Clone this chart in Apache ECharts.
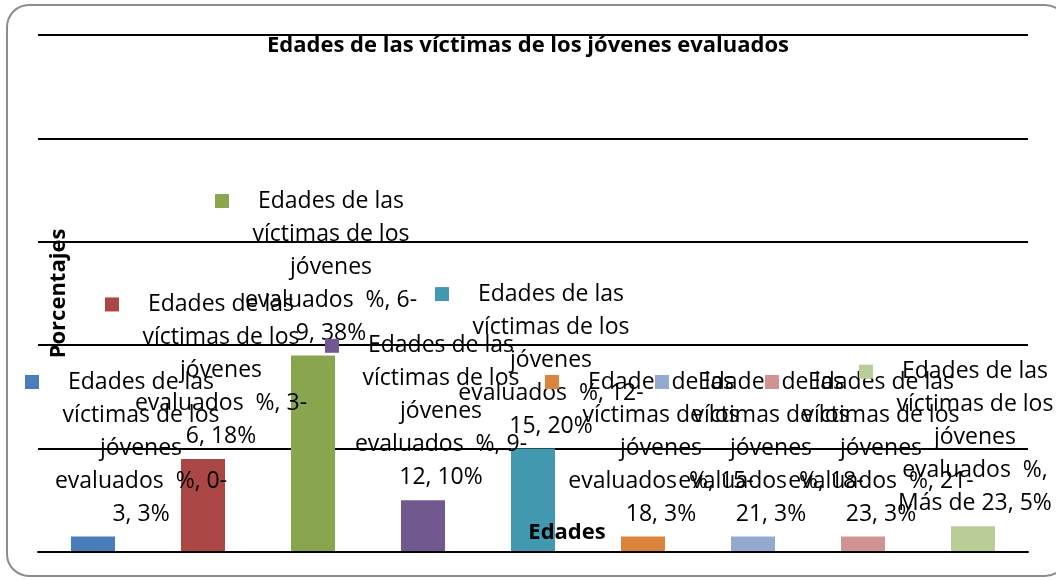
<!DOCTYPE html>
<html>
<head>
<meta charset="utf-8">
<script src="https://cdn.jsdelivr.net/npm/echarts@6/dist/echarts.min.js"></script>
<style>
  html, body { margin: 0; padding: 0; background: #fff; }
  #chart { width: 1056px; height: 580px; }
</style>
</head>
<body>
<div id="chart"></div>
<script>
// datos
const seriesName = 'Edades de las víctimas de los jóvenes evaluados  %'
const ageGroups = ['0-3', '3-6', '6-9', '9-12', '12-15', '15-18', '18-21', '21-23', 'Más de 23']
const percents = [3, 18, 38, 10, 20, 3, 3, 3, 5]
const barColors = ['#4A7EBB', '#AA4643', '#89A54E', '#71588F', '#4198AF', '#DB843D', '#93A9CF', '#D19392', '#B9CD96']
const yTicks = [0, 20, 40, 60, 80, 100]

const FONT = 'Open Sans'
const KEY_W = 43 // cuadrito + hueco

// texto de la etiqueta, partido como en Excel
function labelText(i) {
  const cat = ageGroups[i]
  const v = percents[i] + '%'
  let l4, l5
  if (cat.includes('-')) {
    const p = cat.indexOf('-')
    l4 = 'evaluados  %, ' + cat.slice(0, p + 1)
    l5 = cat.slice(p + 1) + ', ' + v
  } else {
    l4 = 'evaluados  %,'
    l5 = cat + ', ' + v
  }
  return [
    '{sq|}{gap|}Edades de las{gap2|}',
    'víctimas de los',
    'jóvenes',
    l4,
    l5,
  ].join('\n')
}

const chart = echarts.init(document.getElementById('chart'))

const option = {
  animation: false,
  title: {
    text: 'Edades de las víctimas de los jóvenes evaluados',
    left: 'center',
    top: 30,
    textStyle: { fontFamily: FONT, fontWeight: 'bold', fontSize: 22, color: '#000' },
  },
  grid: { left: 38, right: 28, top: 35, bottom: 28 },
  xAxis: {
    type: 'category',
    data: ageGroups,
    z: 5,
    name: 'Edades',
    nameLocation: 'middle',
    nameGap: -30,
    nameTextStyle: { fontFamily: FONT, fontWeight: 'bold', fontSize: 22, color: '#000', padding: [0, 0, 0, 68] },
    axisLine: { lineStyle: { color: '#000', width: 2 } },
    axisTick: { show: false },
    axisLabel: { show: false },
  },
  yAxis: {
    type: 'value',
    min: yTicks[0],
    max: yTicks[yTicks.length - 1],
    interval: 20,
    name: 'Porcentajes',
    nameLocation: 'middle',
    nameGap: -32,
    nameRotate: 90,
    nameTextStyle: { fontFamily: FONT, fontWeight: 'bold', fontSize: 22, color: '#000' },
    axisLine: { show: false },
    axisTick: { show: false },
    axisLabel: { show: false },
    splitLine: { lineStyle: { color: '#000', width: 2 } },
  },
  series: [{
    type: 'bar',
    name: seriesName,
    barWidth: 44,
    data: percents.map((v, i) => ({
      value: v,
      itemStyle: { color: barColors[i] },
      label: {
        formatter: labelText(i),
        rich: {
          sq: { width: 14, height: 14, backgroundColor: barColors[i] },
          gap: { width: KEY_W - 14 },
          gap2: { width: KEY_W },
        },
      },
    })),
    label: {
      show: true,
      position: 'top',
      distance: 6,
      align: 'center',
      fontFamily: FONT,
      fontSize: 23,
      lineHeight: 33,
      color: '#000',
    },
    // un poco a la derecha de la barra y sin salirse del gráfico (como Excel)
    labelLayout(p) {
      const r = p.labelRect
      let cx = r.x + r.width / 2 + 18
      const left = cx - r.width / 2
      const right = cx + r.width / 2 - KEY_W
      if (left < 25) cx += 25 - left
      else if (right > 1048) cx -= right - 1048
      return { x: cx, y: r.y, align: 'center', verticalAlign: 'top' }
    },
  }],
  graphic: [{
    type: 'rect',
    silent: true,
    z: -1,
    shape: { x: 7, y: 5, width: 1060, height: 571, r: 22 },
    style: { fill: 'none', stroke: '#8c8c8c', lineWidth: 2 },
  }],
}

chart.setOption(option)
</script>
</body>
</html>
